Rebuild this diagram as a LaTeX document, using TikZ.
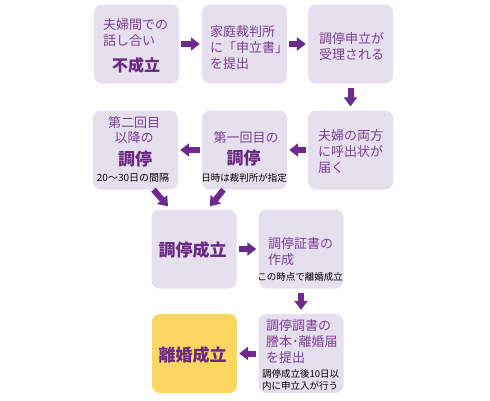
\documentclass[tikz,border=0pt]{standalone}
\usepackage{fontspec}
\setmainfont{Noto Sans CJK JP}
\usetikzlibrary{arrows.meta}
\definecolor{boxc}{RGB}{230,224,238}
\definecolor{yelc}{RGB}{253,214,98}
\definecolor{textc}{RGB}{125,60,152}
\definecolor{boldc}{RGB}{105,40,130}
\definecolor{arrc}{RGB}{108,42,142}
\tikzset{
  box/.style={rectangle, rounded corners=8pt, fill=boxc, minimum width=85pt, minimum height=79pt, inner sep=0pt},
  ybox/.style={box, fill=yelc},
  txt/.style={inner sep=0pt, text=textc, font=\fontsize{13}{16}\selectfont, align=left},
  btxt/.style={inner sep=0pt, text=boldc, font=\fontsize{17}{20}\selectfont\bfseries},
  stxt/.style={inner sep=0pt, text=black, font=\fontsize{9.5}{12}\selectfont, align=left},
  blk/.style={draw=arrc, line width=6pt, -{Triangle[length=9pt,width=13pt]}, shorten <=2pt, shorten >=2pt},
}
\begin{document}
\begin{tikzpicture}[x=1pt,y=-1pt]
\useasboundingbox (0,0) rectangle (490,400);
% boxes
\node[box] (b1) at (136.5,44) {};
\node[box] (b2) at (244.5,44) {};
\node[box] (b3) at (350.5,44) {};
\node[box] (b4) at (350.5,150) {};
\node[box] (b5) at (244.5,150) {};
\node[box] (b6) at (135.5,150) {};
\node[box] (b7) at (194,249) {};
\node[box] (b8) at (301,249) {};
\node[ybox] (b9) at (194.5,353.5) {};
\node[box] (b10) at (301,353.5) {};
% texts
\node[txt, anchor=west] (t1) at (103,32.5) {夫婦間での\\話し合い};
\node[btxt, font=\fontsize{16}{19}\selectfont\bfseries] (t1b) at (136,65) {不成立};
\node[txt, anchor=west] (t2) at (210,48) {家庭裁判所\\に「申立書」\\を提出};
\node[txt, anchor=west] (t3) at (319,46.5) {調停申立が\\受理される};
\node[txt, anchor=west] (t4) at (318,151.5) {夫婦の両方\\に呼出状が\\届く};
\node[txt] (t5) at (246,138) {第一回目の};
\node[btxt] (t5b) at (243.5,158) {調停};
\node[stxt] (t5s) at (244,178) {日時は裁判所が指定};
\node[txt, align=center, font=\fontsize{13}{15}\selectfont] (t6) at (134,130.5) {第二回目\\以降の};
\node[btxt] (t6b) at (135,159) {調停};
\node[stxt, font=\fontsize{10}{12}\selectfont] (t6s) at (133,178) {20〜30日の間隔};
\node[btxt] (t7) at (192.5,250) {調停成立};
\node[txt, anchor=west] (t8) at (268,251.5) {調停証書の\\作成};
\node[stxt] (t8s) at (300,277) {この時点で離婚成立};
\node[btxt] (t9) at (192.5,355) {離婚成立};
\node[txt, anchor=west] (t10) at (266,342) {調停調書の\\謄本･離婚届\\を提出};
\node[stxt, anchor=west] (t10s) at (262,380) {調停成立後10日以\\内に申立入が行う};
% arrows
\draw[blk] (b1) -- (b2);
\draw[blk] (b2) -- (b3);
\draw[blk, shorten <=4pt, shorten >=4pt] (b3) -- (b4);
\draw[blk] (b4) -- (b5);
\draw[blk] (b5) -- (b6);
\draw[blk, shorten <=0pt, shorten >=0pt] ([xshift=18pt]b6.south) -- ([xshift=-26pt,yshift=3pt]b7.north);
\draw[blk, shorten <=0pt, shorten >=0pt] ([xshift=-21pt]b5.south) -- ([xshift=16pt,yshift=3pt]b7.north);
\draw[blk] (b7) -- (b8);
\draw[blk, shorten <=4pt, shorten >=4pt] (b8) -- (b10);
\draw[blk] (b10) -- (b9);
\end{tikzpicture}
\end{document}
